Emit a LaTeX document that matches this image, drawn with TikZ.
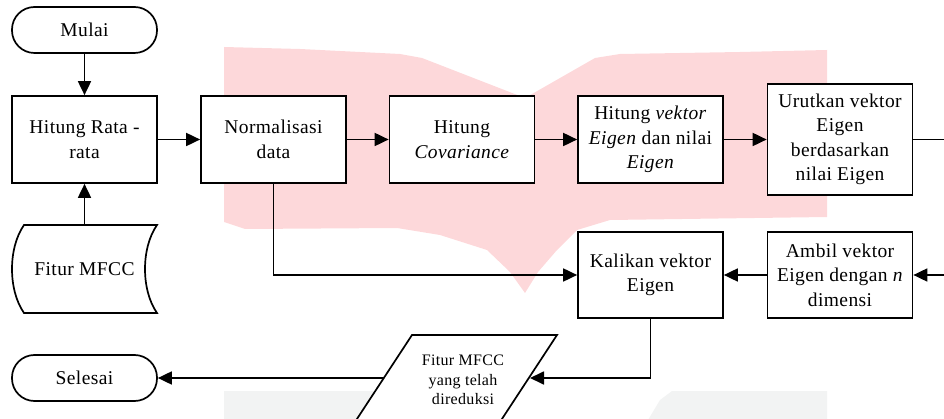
\documentclass[tikz,border=0pt]{standalone}
\usepackage{fontspec}
\setmainfont{Liberation Serif}[LetterSpace=2]
\usetikzlibrary{arrows.meta}
\definecolor{wmpink}{RGB}{253,216,218}
\definecolor{wmgray}{RGB}{242,243,243}
\begin{document}
\begin{tikzpicture}[x=1pt,y=1pt,
  txt/.style={align=center,font=\fontsize{19.5}{24.5}\selectfont,inner sep=0pt},
  box/.style={txt,draw,fill=white,line width=1.7pt,minimum width=145pt,minimum height=87pt},
  term/.style={txt,draw,fill=white,line width=1.7pt,minimum width=145pt,minimum height=46pt,rounded corners=22.5pt},
  conn/.style={line width=1.8pt},
  arr/.style={conn,-{Triangle[length=14pt,width=13pt]}},
  small/.style={align=center,font=\fontsize{16}{19.5}\selectfont,inner sep=0pt}]
\useasboundingbox (0,0) rectangle (944,-419);
\clip (0,0) rectangle (944,-419);
% watermark background
\fill[wmpink] (224,-47) -- (300,-49) -- (400,-54) -- (422,-58) -- (525,-98) -- (595,-58)
  -- (620,-54) -- (740,-52) -- (827,-50) -- (827,-217) -- (610,-220) -- (577,-230) -- (557,-250)
  -- (538,-272) -- (525,-293) -- (510,-272) -- (487,-250) -- (440,-235) -- (397,-228)
  -- (245,-229) -- (224,-222) -- cycle;
\fill[wmgray] (224,-391) -- (430,-391) -- (500,-440) -- (645,-425) -- (660,-400) -- (672,-391)
  -- (827,-391) -- (827,-440) -- (224,-440) -- cycle;
% nodes
\node[term] (mulai) at (84.5,-30) {Mulai};
\node[box] (hr) at (84.5,-139.5) {Hitung Rata -\\rata};
\node[box] (norm) at (273.5,-139.5) {Normalisasi\\data};
\node[box] (cov) at (462,-139.5) {Hitung\\\textit{Covariance}};
\node[box] (eig) at (650.5,-139.5) {Hitung \textit{vektor}\\\textit{Eigen} dan nilai\\\textit{Eigen}};
\node[box,minimum height=111pt] (uru) at (840,-139.5) {Urutkan vektor\\Eigen\\berdasarkan\\nilai Eigen};
\node[box,minimum height=86pt] (amb) at (840,-275) {Ambil vektor\\Eigen dengan \textit{n}\\dimensi};
\node[box,minimum height=86pt] (kal) at (650.5,-275) {Kalikan vektor\\Eigen};
\node[term] (sel) at (84.5,-378) {Selesai};
% Fitur MFCC stored-data shape
\draw[line width=1.7pt,fill=white] (24,-225) -- (157,-225)
  .. controls (141,-248) and (141,-290) .. (157,-313) -- (24,-313)
  .. controls (8,-290) and (8,-248) .. (24,-225) -- cycle;
\node[txt,minimum width=133pt,minimum height=88pt] (fitur) at (84.5,-269) {Fitur MFCC};
% output parallelogram
\draw[line width=1.7pt,fill=white] (412,-335) -- (557,-335) -- (498,-425) -- (353,-425) -- cycle;
\node[small] (out) at (463,-380) {Fitur MFCC\\yang telah\\direduksi};
\coordinate (pR) at (530,-378);
\coordinate (pL) at (384,-378);
\coordinate (offA) at (950,-139.5);
\coordinate (offB) at (950,-275);
% connectors
\draw[arr] (mulai) -- (hr);
\draw[arr] (fitur.north) -- (hr.south);
\draw[arr] (hr) -- (norm);
\draw[arr] (norm) -- (cov);
\draw[arr] (cov) -- (eig);
\draw[arr] (eig) -- (uru);
\draw[conn] (uru.east) -- (offA);
\draw[arr] (offB) -- (amb.east);
\draw[arr] (amb) -- (kal);
\draw[arr] (norm.south) |- (kal.west);
\draw[arr] (kal.south) |- (pR);
\draw[arr] (pL) -- (sel.east);
\end{tikzpicture}
\end{document}
